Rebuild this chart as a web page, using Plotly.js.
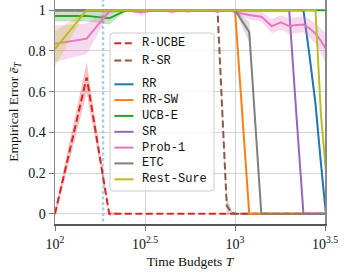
<!DOCTYPE html>
<html><head><meta charset="utf-8">
<script src="https://cdn.plot.ly/plotly-3.0.1.min.js"></script>
<style>html,body{margin:0;padding:0;background:#fff}#chart{width:348px;height:273px}</style>
</head><body><div id="chart"></div>
<script>
// ---- data ----
const budgets = [100,150,200,250,300,350,400,450,500,550,600,650,700,750,800,850,900,950,1000,1200,1400,1600,1800,2000,2200,2400,2600,2800,3000,3200];
const seriesNames = ['R-UCBE','R-SR','RR','RR-SW','UCB-E','SR','Prob-1','ETC','Rest-Sure'];

const rUcbe    = [0,0.67,0,0,0,0,0,0,0,0,0,0,0,0,0,0,0,0,0,0,0,0,0,0,0,0,0,0,0,0];
const rUcbeErr = [0.02,0.075,0.01,0,0,0,0,0,0,0,0,0,0,0,0,0,0,0,0,0,0,0,0,0,0,0,0,0,0,0];

const rSr      = [1,1,1,1,1,1,1,1,1,1,1,1,1,1,1,0.5,0.04,0.01,0,0,0,0,0,0,0,0,0,0,0,0];
const rSrErr   = [0,0,0,0,0,0,0,0,0,0,0,0,0,0,0,0.03,0.05,0.01,0,0,0,0,0,0,0,0,0,0,0,0];

const rr       = [1,1,1,1,1,1,1,1,1,1,1,1,1,1,1,1,1,1,1,1,1,1,1,1,1,1,0.77,0.54,0.25,0];
const rrErr    = [0,0,0,0,0,0,0,0,0,0,0,0,0,0,0,0,0,0,0,0,0,0,0,0,0,0,0.03,0.035,0.03,0];

const rrSw     = [1,1,1,1,1,1,1,1,1,1,1,1,1,1,1,1,1,1,1,0,0,0,0,0,0,0,0,0,0,0];
const rrSwErr  = [0,0,0,0,0,0,0,0,0,0,0,0,0,0,0,0,0,0,0,0,0,0,0,0,0,0,0,0,0,0];

const ucbE     = [0.972,0.972,0.96,1,1,1,1,1,1,1,1,1,1,1,1,1,1,1,1,1,1,1,1,1,1,1,1,1,1,1];
const ucbEErr  = [0.028,0.028,0.03,0,0,0,0,0,0,0,0,0,0,0,0,0,0,0,0,0,0,0,0,0,0,0,0,0,0,0];

const sr       = [1,1,1,1,1,1,1,1,1,1,1,1,1,1,1,1,1,1,1,1,1,1,1,1,0.47,0,0,0,0,0];
const srErr    = [0,0,0,0,0,0,0,0,0,0,0,0,0,0,0,0,0,0,0,0,0,0,0,0,0.03,0,0,0,0,0];

const prob1    = [0.835,0.86,0.995,1,0.99,1,1,0.993,1,0.995,1,1,1,1,0.993,1,1,1,0.99,0.976,0.968,0.922,0.94,0.922,0.927,0.93,0.91,0.885,0.85,0.81];
const prob1Err = [0.09,0.075,0.012,0.004,0.016,0.006,0.004,0.012,0.004,0.01,0.004,0.004,0.004,0.006,0.012,0.004,0.004,0.004,0.01,0.022,0.025,0.035,0.035,0.038,0.04,0.04,0.045,0.05,0.06,0.075];

const etc      = [1,1,1,1,1,1,1,1,1,1,1,1,1,1,1,1,1,1,1,0.893,0,0,0,0,0,0,0,0,0,0];
const etcErr   = [0,0,0,0,0,0,0,0,0,0,0,0,0,0,0,0,0,0,0,0.05,0,0,0,0,0,0,0,0,0,0];

const restSure    = [0.81,1,1,1,1,1,1,1,1,1,1,1,1,1,1,1,1,1,1,1,1,1,1,1,1,1,1,1,0.49,0.21];
const restSureErr = [0.085,0,0,0,0,0,0,0,0,0,0,0,0,0,0,0,0,0,0,0,0,0,0,0,0,0,0,0,0.03,0.04];

const thresholdBudget = 185;

const xTickVals = [100, 316.2278, 1000, 3162.278];
const xTickText = ['10<sup>2</sup>','10<sup>2.5</sup>','10<sup>3</sup>','10<sup>3.5</sup>'];
const yTickVals = [0,0.2,0.4,0.6,0.8,1];
const yTickText = ['0','0.2','0.4','0.6','0.8','1'];

// ---- styles ----
const seriesMeans = [rUcbe, rSr, rr, rrSw, ucbE, sr, prob1, etc, restSure];
const seriesErrs  = [rUcbeErr, rSrErr, rrErr, rrSwErr, ucbEErr, srErr, prob1Err, etcErr, restSureErr];
const seriesRGB = [[214,39,40],[140,86,75],[31,119,180],[255,127,14],[44,160,44],[148,103,189],[227,119,194],[127,127,127],[188,189,34]];
const seriesDash = ['7px,3.5px','7px,3.5px','solid','solid','solid','solid','solid','solid','solid'];

const traces = [];
traces.push({
  x: [thresholdBudget, thresholdBudget], y: [-0.2, 1.2], mode: 'lines',
  line: {color: '#a9cde8', width: 2.4, dash: '3px,2.5px'}, hoverinfo: 'skip', showlegend: false
});
seriesNames.forEach((name, i) => {
  const m = seriesMeans[i], e = seriesErrs[i];
  const upper = m.map((v, k) => v + e[k]);
  const lower = m.map((v, k) => v - e[k]);
  const c = seriesRGB[i];
  traces.push({
    x: budgets.concat(budgets.slice().reverse()),
    y: upper.concat(lower.slice().reverse()),
    mode: 'lines', fill: 'toself', line: {width: 0},
    fillcolor: `rgba(${c[0]},${c[1]},${c[2]},0.28)`, hoverinfo: 'skip', showlegend: false
  });
  traces.push({
    x: budgets, y: m, mode: 'lines', name: name,
    line: {color: `rgb(${c[0]},${c[1]},${c[2]})`, width: 2, dash: seriesDash[i]},
    showlegend: false
  });
});

// ---- custom legend (paper coords) ----
const L = 55, W = 270, H = 224;
const px = x => (x - L) / W;
const py = y => 1 - y / H;
const legendRowsY = [43.3, 60.5, 84.3, 100.1, 115.9, 131.8, 147.6, 163.4, 179.3];
const shapes = [];
const annotations = [];
{
  const x0 = px(110), x1 = px(214), y0 = py(191), y1 = py(33);
  const rx = 3 / W, ry = 3 / H;
  shapes.push({
    type: 'path', xref: 'paper', yref: 'paper',
    path: `M${x0+rx},${y1} L${x1-rx},${y1} Q${x1},${y1} ${x1},${y1-ry} L${x1},${y0+ry} Q${x1},${y0} ${x1-rx},${y0} L${x0+rx},${y0} Q${x0},${y0} ${x0},${y0+ry} L${x0},${y1-ry} Q${x0},${y1} ${x0+rx},${y1} Z`,
    line: {color: '#cccccc', width: 1}, fillcolor: 'rgba(255,255,255,0.8)'
  });
}
seriesNames.forEach((name, i) => {
  const c = seriesRGB[i];
  const yy = py(legendRowsY[i]);
  shapes.push({
    type: 'line', xref: 'paper', yref: 'paper', x0: px(114.3), x1: px(133.5), y0: yy, y1: yy,
    line: {color: `rgb(${c[0]},${c[1]},${c[2]})`, width: 2, dash: seriesDash[i]}
  });
  annotations.push({
    xref: 'paper', yref: 'paper', x: px(139.5), y: yy, xanchor: 'left', yanchor: 'middle',
    text: name, showarrow: false, font: {family: 'Liberation Mono, monospace', size: 12, color: '#111'}
  });
});

const serif = 'Liberation Serif, serif';
const layout = {
  width: 348, height: 273,
  margin: {l: 55, r: 23, t: 0, b: 49},
  paper_bgcolor: '#fff', plot_bgcolor: '#fff',
  showlegend: false,
  font: {family: serif, size: 13.5, color: '#111'},
  xaxis: {
    type: 'log', range: [2, 3.5], tickvals: xTickVals, ticktext: xTickText,
    showgrid: true, gridcolor: '#d3d3d3', gridwidth: 1, zeroline: false,
    showline: true, linecolor: '#555', linewidth: 1.5, mirror: true,
    ticks: 'outside', ticklen: 5, tickcolor: '#777', tickwidth: 1, ticklabelstandoff: 2,
    tickfont: {family: serif, size: 14, color: '#111'},
    title: {text: 'Time Budgets <i>T</i>', font: {family: serif, size: 13.5, color: '#111'}, standoff: 5}
  },
  yaxis: {
    range: [-0.05, 1.05], tickvals: yTickVals, ticktext: yTickText,
    showgrid: true, gridcolor: '#d3d3d3', gridwidth: 1, zeroline: false,
    showline: true, linecolor: '#888', linewidth: 1.5, mirror: true,
    ticks: 'outside', ticklen: 5, tickcolor: '#777', tickwidth: 1,
    tickfont: {family: serif, size: 14, color: '#111'},
    title: {text: 'Empirical Error <i>ē</i><sub><i>T</i></sub>', font: {family: serif, size: 13.5, color: '#111'}, standoff: 6}
  },
  shapes: shapes,
  annotations: annotations
};

Plotly.newPlot('chart', traces, layout, {staticPlot: true, displayModeBar: false});
</script>
</body></html>
